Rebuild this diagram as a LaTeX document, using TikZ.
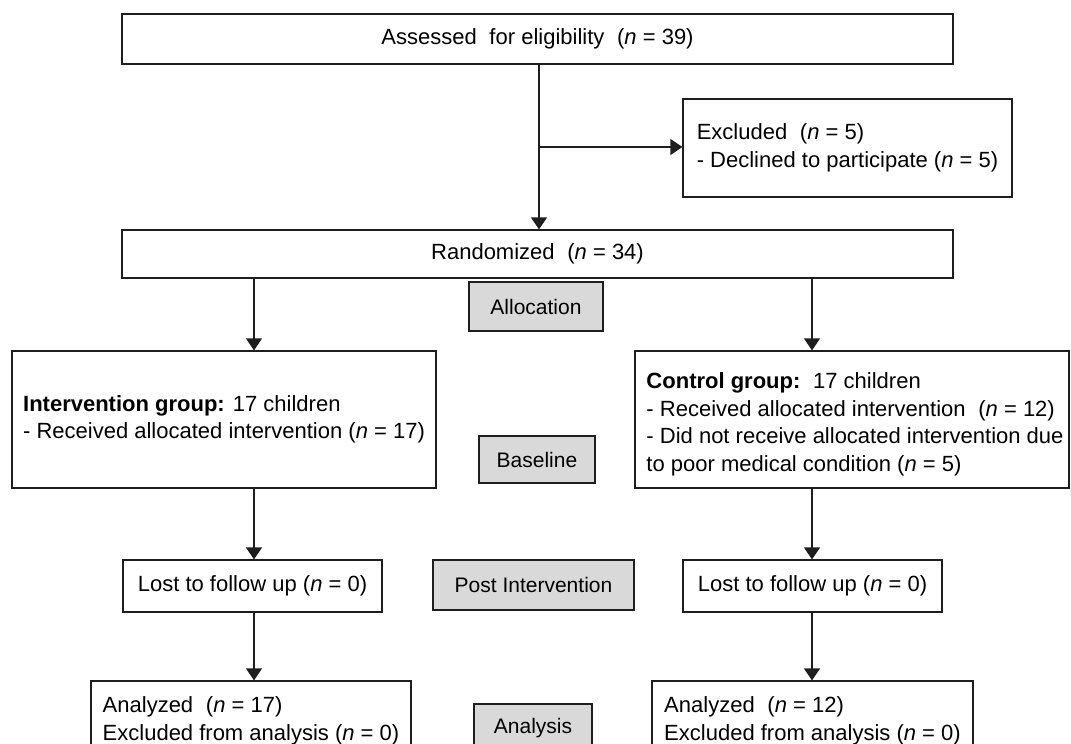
\documentclass[tikz,border=0pt]{standalone}
\usepackage{fontspec}
\setmainfont{Liberation Sans}
\usetikzlibrary{arrows.meta}
\definecolor{linec}{HTML}{1E1E1E}
\definecolor{grayfill}{HTML}{D9D9D9}
\newcommand{\nn}{\textit{n}}
\newcommand{\xsp}{\hspace{0.3em}}
\begin{document}
\begin{tikzpicture}[x=1pt,y=-1pt,
  box/.style={draw=linec, line width=1.2pt, rectangle, inner sep=0pt,
    font=\fontsize{22}{27.5}\selectfont, text=black},
  phase/.style={box, fill=grayfill, font=\fontsize{21}{26}\selectfont},
  arr/.style={draw=linec, line width=1.2pt, -{Triangle[width=16pt,length=12pt]}}
  ]
\useasboundingbox (0,0) rectangle (1071,744);
\clip (0,0) rectangle (1071,744);

% main boxes
\node[box, minimum width=831pt, minimum height=50pt] (assess) at (537.5,39)
  {Assessed\xsp\ for eligibility\xsp\ (\nn{} = 39)};
\node[box, minimum width=329pt, minimum height=98pt, align=left] (excl) at (847.5,148)
  {Excluded\xsp\ (\nn{} = 5)\\- Declined to participate (\nn{} = 5)};
\node[box, minimum width=831pt, minimum height=48pt] (rand) at (537.5,254)
  {Randomized\xsp\ (\nn{} = 34)};

\node[box, minimum width=424pt, minimum height=137pt, align=left] (interv) at (224,419.5)
  {\textbf{Intervention group:} 17 children\\- Received allocated intervention (\nn{} = 17)};
\node[box, minimum width=434pt, minimum height=137pt, align=left] (ctrl) at (852,419.5)
  {\hspace*{6pt}\rule{0pt}{26pt}\textbf{Control group:}\xsp\ 17 children\\
   \hspace*{6pt}- Received allocated intervention\xsp\ (\nn{} = 12)\\
   \hspace*{6pt}- Did not receive allocated intervention due\\
   \hspace*{6pt}to poor medical condition (\nn{} = 5)};

\node[box, minimum width=259pt, minimum height=52pt] (lostL) at (252.5,586)
  {Lost to follow up (\nn{} = 0)};
\node[box, minimum width=259pt, minimum height=52pt] (lostR) at (812.5,586)
  {Lost to follow up (\nn{} = 0)};

\node[box, minimum width=320pt, minimum height=80pt, align=left] (anaL) at (251,721)
  {Analyzed\xsp\ (\nn{} = 17)\\Excluded from analysis (\nn{} = 0)};
\node[box, minimum width=321pt, minimum height=80pt, align=left] (anaR) at (812.5,721)
  {Analyzed\xsp\ (\nn{} = 12)\\Excluded from analysis (\nn{} = 0)};

% phase labels
\node[phase, minimum width=134pt, minimum height=49pt] (alloc) at (536,306.5) {Allocation};
\node[phase, minimum width=116pt, minimum height=47pt] (base) at (537,459.5) {Baseline};
\node[phase, minimum width=201pt, minimum height=50pt] (post) at (533.5,585) {Post Intervention};
\node[phase, minimum width=118pt, minimum height=48pt] (anal) at (533,728) {Analysis};

% connectors
\coordinate (xm) at (539,0);
\coordinate (xl) at (254,0);
\coordinate (xr) at (812,0);
\coordinate (br) at (539,147);
\draw[arr] (assess.south -| xm) -- (rand.north -| xm);
\draw[arr] (br) -- (br -| excl.west);
\draw[arr] (rand.south -| xl) -- (interv.north -| xl);
\draw[arr] (rand.south -| xr) -- (ctrl.north -| xr);
\draw[arr] (interv.south -| xl) -- (lostL.north -| xl);
\draw[arr] (ctrl.south -| xr) -- (lostR.north -| xr);
\draw[arr] (lostL.south -| xl) -- (anaL.north -| xl);
\draw[arr] (lostR.south -| xr) -- (anaR.north -| xr);
\end{tikzpicture}
\end{document}
